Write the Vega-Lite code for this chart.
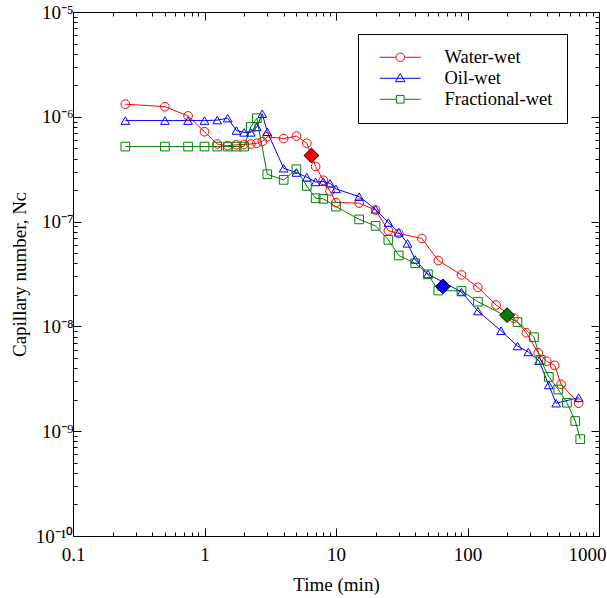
{
  "$schema": "https://vega.github.io/schema/vega-lite/v6.json",
  "width": 526,
  "height": 524,
  "autosize": {"type": "none"},
  "padding": {"left": 73, "top": 12, "right": 8, "bottom": 62},
  "background": "white",
  "config": {
    "font": "Liberation Serif",
    "view": {"stroke": null},
    "axis": {"grid": false, "domainColor": "black", "tickColor": "black", "labelColor": "black", "labelFont": "Liberation Serif", "labelFontSize": 19, "titleFont": "Liberation Serif", "titleFontSize": 19, "titleFontWeight": "normal", "titleColor": "black", "labelFlush": false, "labelOverlap": false}
  },
  "datasets": {
    "series": [
      {"t": 0.25, "nc": 1.32e-6, "type": "Water-wet"},
      {"t": 0.5, "nc": 1.25e-6, "type": "Water-wet"},
      {"t": 0.75, "nc": 1.02e-6, "type": "Water-wet"},
      {"t": 1.0, "nc": 7.2e-7, "type": "Water-wet"},
      {"t": 1.25, "nc": 5.5e-7, "type": "Water-wet"},
      {"t": 1.5, "nc": 5.3e-7, "type": "Water-wet"},
      {"t": 1.75, "nc": 5.4e-7, "type": "Water-wet"},
      {"t": 2.0, "nc": 5.45e-7, "type": "Water-wet"},
      {"t": 2.25, "nc": 5.5e-7, "type": "Water-wet"},
      {"t": 2.5, "nc": 5.6e-7, "type": "Water-wet"},
      {"t": 2.75, "nc": 5.8e-7, "type": "Water-wet"},
      {"t": 3.0, "nc": 6.45e-7, "type": "Water-wet"},
      {"t": 4, "nc": 6.2e-7, "type": "Water-wet"},
      {"t": 5, "nc": 6.55e-7, "type": "Water-wet"},
      {"t": 6, "nc": 5.6e-7, "type": "Water-wet"},
      {"t": 7, "nc": 3.36e-7, "type": "Water-wet"},
      {"t": 8, "nc": 2.48e-7, "type": "Water-wet"},
      {"t": 9, "nc": 1.96e-7, "type": "Water-wet"},
      {"t": 10, "nc": 1.52e-7, "type": "Water-wet"},
      {"t": 15, "nc": 1.5e-7, "type": "Water-wet"},
      {"t": 20, "nc": 1.29e-7, "type": "Water-wet"},
      {"t": 25, "nc": 8.2e-8, "type": "Water-wet"},
      {"t": 30, "nc": 7.7e-8, "type": "Water-wet"},
      {"t": 45, "nc": 6.9e-8, "type": "Water-wet"},
      {"t": 60, "nc": 4.25e-8, "type": "Water-wet"},
      {"t": 90, "nc": 3.1e-8, "type": "Water-wet"},
      {"t": 120, "nc": 2.36e-8, "type": "Water-wet"},
      {"t": 165, "nc": 1.6e-8, "type": "Water-wet"},
      {"t": 225, "nc": 1.2e-8, "type": "Water-wet"},
      {"t": 280, "nc": 8.7e-9, "type": "Water-wet"},
      {"t": 345, "nc": 5.6e-9, "type": "Water-wet"},
      {"t": 400, "nc": 4.65e-9, "type": "Water-wet"},
      {"t": 460, "nc": 4.25e-9, "type": "Water-wet"},
      {"t": 515, "nc": 2.8e-9, "type": "Water-wet"},
      {"t": 700, "nc": 1.85e-9, "type": "Water-wet"},
      {"t": 0.25, "nc": 9.2e-7, "type": "Oil-wet"},
      {"t": 0.5, "nc": 9.2e-7, "type": "Oil-wet"},
      {"t": 0.75, "nc": 9.2e-7, "type": "Oil-wet"},
      {"t": 1.0, "nc": 9.2e-7, "type": "Oil-wet"},
      {"t": 1.25, "nc": 9.3e-7, "type": "Oil-wet"},
      {"t": 1.5, "nc": 9.7e-7, "type": "Oil-wet"},
      {"t": 1.75, "nc": 7.4e-7, "type": "Oil-wet"},
      {"t": 2.0, "nc": 7.1e-7, "type": "Oil-wet"},
      {"t": 2.25, "nc": 7.1e-7, "type": "Oil-wet"},
      {"t": 2.5, "nc": 8.0e-7, "type": "Oil-wet"},
      {"t": 2.75, "nc": 1.07e-6, "type": "Oil-wet"},
      {"t": 3.0, "nc": 7.2e-7, "type": "Oil-wet"},
      {"t": 4, "nc": 3.23e-7, "type": "Oil-wet"},
      {"t": 5, "nc": 2.94e-7, "type": "Oil-wet"},
      {"t": 6, "nc": 2.65e-7, "type": "Oil-wet"},
      {"t": 7, "nc": 2.39e-7, "type": "Oil-wet"},
      {"t": 8, "nc": 2.41e-7, "type": "Oil-wet"},
      {"t": 9, "nc": 2.32e-7, "type": "Oil-wet"},
      {"t": 10, "nc": 2.05e-7, "type": "Oil-wet"},
      {"t": 15, "nc": 1.73e-7, "type": "Oil-wet"},
      {"t": 20, "nc": 1.31e-7, "type": "Oil-wet"},
      {"t": 25, "nc": 9.8e-8, "type": "Oil-wet"},
      {"t": 30, "nc": 7.9e-8, "type": "Oil-wet"},
      {"t": 35, "nc": 6.2e-8, "type": "Oil-wet"},
      {"t": 40, "nc": 4.35e-8, "type": "Oil-wet"},
      {"t": 50, "nc": 3.16e-8, "type": "Oil-wet"},
      {"t": 90, "nc": 2.13e-8, "type": "Oil-wet"},
      {"t": 120, "nc": 1.4e-8, "type": "Oil-wet"},
      {"t": 180, "nc": 9.1e-9, "type": "Oil-wet"},
      {"t": 240, "nc": 6.5e-9, "type": "Oil-wet"},
      {"t": 290, "nc": 5.7e-9, "type": "Oil-wet"},
      {"t": 350, "nc": 4.7e-9, "type": "Oil-wet"},
      {"t": 415, "nc": 2.76e-9, "type": "Oil-wet"},
      {"t": 472, "nc": 1.85e-9, "type": "Oil-wet"},
      {"t": 700, "nc": 2.09e-9, "type": "Oil-wet"},
      {"t": 0.25, "nc": 5.2e-7, "type": "Fractional-wet"},
      {"t": 0.5, "nc": 5.2e-7, "type": "Fractional-wet"},
      {"t": 0.75, "nc": 5.2e-7, "type": "Fractional-wet"},
      {"t": 1.0, "nc": 5.2e-7, "type": "Fractional-wet"},
      {"t": 1.25, "nc": 5.2e-7, "type": "Fractional-wet"},
      {"t": 1.5, "nc": 5.2e-7, "type": "Fractional-wet"},
      {"t": 1.75, "nc": 5.2e-7, "type": "Fractional-wet"},
      {"t": 2.0, "nc": 5.2e-7, "type": "Fractional-wet"},
      {"t": 2.25, "nc": 8.0e-7, "type": "Fractional-wet"},
      {"t": 2.5, "nc": 9.7e-7, "type": "Fractional-wet"},
      {"t": 3.0, "nc": 2.83e-7, "type": "Fractional-wet"},
      {"t": 4, "nc": 2.5e-7, "type": "Fractional-wet"},
      {"t": 5, "nc": 3.16e-7, "type": "Fractional-wet"},
      {"t": 6, "nc": 2.19e-7, "type": "Fractional-wet"},
      {"t": 7, "nc": 1.67e-7, "type": "Fractional-wet"},
      {"t": 8, "nc": 1.65e-7, "type": "Fractional-wet"},
      {"t": 10, "nc": 1.39e-7, "type": "Fractional-wet"},
      {"t": 15, "nc": 1.05e-7, "type": "Fractional-wet"},
      {"t": 20, "nc": 9.1e-8, "type": "Fractional-wet"},
      {"t": 25, "nc": 6.7e-8, "type": "Fractional-wet"},
      {"t": 30, "nc": 4.75e-8, "type": "Fractional-wet"},
      {"t": 40, "nc": 4.0e-8, "type": "Fractional-wet"},
      {"t": 50, "nc": 3.14e-8, "type": "Fractional-wet"},
      {"t": 60, "nc": 2.2e-8, "type": "Fractional-wet"},
      {"t": 90, "nc": 2.18e-8, "type": "Fractional-wet"},
      {"t": 120, "nc": 1.72e-8, "type": "Fractional-wet"},
      {"t": 240, "nc": 1.1e-8, "type": "Fractional-wet"},
      {"t": 320, "nc": 7.9e-9, "type": "Fractional-wet"},
      {"t": 360, "nc": 4.8e-9, "type": "Fractional-wet"},
      {"t": 415, "nc": 3.3e-9, "type": "Fractional-wet"},
      {"t": 490, "nc": 2.5e-9, "type": "Fractional-wet"},
      {"t": 570, "nc": 1.87e-9, "type": "Fractional-wet"},
      {"t": 660, "nc": 1.25e-9, "type": "Fractional-wet"},
      {"t": 720, "nc": 8.4e-10, "type": "Fractional-wet"}
    ],
    "diamonds": [
      {"t": 6.5, "nc": 4.27e-7, "type": "Water-wet"},
      {"t": 65, "nc": 2.41e-8, "type": "Oil-wet"},
      {"t": 200, "nc": 1.28e-8, "type": "Fractional-wet"}
    ]
  },
  "resolve": {"scale": {"shape": "independent", "stroke": "independent"}},
  "layer": [
    {
      "data": {"name": "series"},
      "mark": {"type": "line", "strokeWidth": 1},
      "encoding": {
        "x": {"field": "t", "type": "quantitative", "scale": {"type": "log", "domain": [0.1, 1000], "nice": false},
          "axis": {"orient": "bottom", "title": "Time (min)", "titlePadding": 7, "labelPadding": 17,
            "ticks": true, "tickColor": "black", "tickWidth": 1, "tickOpacity": 1,
            "values": [0.1,0.2,0.3,0.4,0.5,0.6,0.7,0.8,0.9,1,2,3,4,5,6,7,8,9,10,20,30,40,50,60,70,80,90,100,200,300,400,500,600,700,800,900,1000],
            "labelExpr": "abs(log(datum.value)/LN10 - round(log(datum.value)/LN10)) < 1e-6 ? (datum.value < 1 ? '0.1' : format(datum.value, 'd')) : ''",
            "labelAlign": {"condition": {"test": "datum.value > 999", "value": "right"}, "value": "center"},
            "labelOffset": {"condition": {"test": "datum.value > 999", "value": 7}, "value": 0},
            "tickSize": {"condition": {"test": "abs(log(datum.value)/LN10 - round(log(datum.value)/LN10)) < 1e-6", "value": -8}, "value": -4}}},
        "y": {"field": "nc", "type": "quantitative", "scale": {"type": "log", "domain": [1e-10, 1e-5], "nice": false},
          "axis": {"orient": "left", "title": "Capillary number, Nᴄ", "titlePadding": 6, "labelPadding": 8,
            "ticks": true, "tickColor": "black", "tickWidth": 1, "tickOpacity": 1,
            "values": [1e-10,2e-10,3e-10,4e-10,5e-10,6e-10,7e-10,8e-10,9e-10,1e-9,2e-9,3e-9,4e-9,5e-9,6e-9,7e-9,8e-9,9e-9,1e-8,2e-8,3e-8,4e-8,5e-8,6e-8,7e-8,8e-8,9e-8,1e-7,2e-7,3e-7,4e-7,5e-7,6e-7,7e-7,8e-7,9e-7,1e-6,2e-6,3e-6,4e-6,5e-6,6e-6,7e-6,8e-6,9e-6,1e-5],
            "labelExpr": "abs(log(datum.value)/LN10 - round(log(datum.value)/LN10)) < 1e-6 ? '10⁻' + ['⁰','¹','²','³','⁴','⁵','⁶','⁷','⁸','⁹','¹⁰'][-round(log(datum.value)/LN10)] : ''",
            "tickSize": {"condition": {"test": "abs(log(datum.value)/LN10 - round(log(datum.value)/LN10)) < 1e-6", "value": -8}, "value": -4}}},
        "color": {"field": "type", "type": "nominal", "scale": {"domain": ["Water-wet", "Oil-wet", "Fractional-wet"], "range": ["#ff0000", "#0000ff", "#008000"]}, "legend": null}
      }
    },
    {
      "data": {"name": "series"},
      "mark": {"type": "point", "filled": false, "size": 75, "strokeWidth": 1, "opacity": 1},
      "encoding": {
        "x": {"field": "t", "type": "quantitative", "axis": null},
        "y": {"field": "nc", "type": "quantitative", "axis": null},
        "stroke": {"field": "type", "type": "nominal", "scale": {"domain": ["Water-wet", "Oil-wet", "Fractional-wet"], "range": ["#ff0000", "#0000ff", "#008000"]}, "legend": null},
        "shape": {"field": "type", "type": "nominal", "scale": {"domain": ["Water-wet", "Oil-wet", "Fractional-wet"], "range": ["circle", "triangle-up", "square"]}, "legend": null}
      }
    },
    {
      "data": {"name": "series"},
      "mark": {"type": "point", "filled": false, "size": 75, "strokeWidth": 1, "opacity": 0},
      "encoding": {
        "x": {"field": "t", "type": "quantitative", "axis": null},
        "y": {"field": "nc", "type": "quantitative", "axis": null},
        "stroke": {"field": "type", "type": "nominal", "scale": {"domain": ["Water-wet", "Oil-wet", "Fractional-wet"], "range": ["#ff0000", "#0000ff", "#008000"]},
          "legend": {"orient": "none", "legendX": 285, "legendY": 22, "title": null, "labelFontSize": 18.5, "labelFont": "Liberation Serif", "labelColor": "black", "symbolSize": 289, "symbolStrokeWidth": 1, "symbolOpacity": 1, "symbolOffset": 19, "labelOffset": 35, "padding": 14, "rowPadding": 2, "strokeColor": "black", "fillColor": "white"}},
        "shape": {"field": "type", "type": "nominal", "scale": {"domain": ["Water-wet", "Oil-wet", "Fractional-wet"], "range": ["M-2.41,0H-0.5M0.5,0H2.41M0.5,0A0.5,0.5,0,1,1,-0.5,0A0.5,0.5,0,1,1,0.5,0Z", "M-2.41,0H2.41M0,-0.56L0.55,0.4L-0.55,0.4Z", "M-2.41,0H-0.45M0.45,0H2.41M-0.45,-0.45H0.45V0.45H-0.45Z"]},
          "legend": {"orient": "none", "legendX": 285, "legendY": 22, "title": null, "labelFontSize": 18.5, "labelFont": "Liberation Serif", "labelColor": "black", "symbolSize": 289, "symbolStrokeWidth": 1, "symbolOpacity": 1, "symbolOffset": 19, "labelOffset": 35, "padding": 14, "rowPadding": 2, "strokeColor": "black", "fillColor": "white"}}
      }
    },
    {
      "data": {"name": "diamonds"},
      "mark": {"type": "point", "shape": "diamond", "filled": true, "size": 220, "stroke": "black", "strokeWidth": 1, "opacity": 1},
      "encoding": {
        "x": {"field": "t", "type": "quantitative",
          "axis": {"orient": "top", "title": null, "labels": false,
            "ticks": true, "tickColor": "black", "tickWidth": 1, "tickOpacity": 1,
            "values": [0.1,0.2,0.3,0.4,0.5,0.6,0.7,0.8,0.9,1,2,3,4,5,6,7,8,9,10,20,30,40,50,60,70,80,90,100,200,300,400,500,600,700,800,900,1000],
            "tickSize": {"condition": {"test": "abs(log(datum.value)/LN10 - round(log(datum.value)/LN10)) < 1e-6", "value": -8}, "value": -4}}},
        "y": {"field": "nc", "type": "quantitative",
          "axis": {"orient": "right", "title": null, "labels": false,
            "ticks": true, "tickColor": "black", "tickWidth": 1, "tickOpacity": 1,
            "values": [1e-10,2e-10,3e-10,4e-10,5e-10,6e-10,7e-10,8e-10,9e-10,1e-9,2e-9,3e-9,4e-9,5e-9,6e-9,7e-9,8e-9,9e-9,1e-8,2e-8,3e-8,4e-8,5e-8,6e-8,7e-8,8e-8,9e-8,1e-7,2e-7,3e-7,4e-7,5e-7,6e-7,7e-7,8e-7,9e-7,1e-6,2e-6,3e-6,4e-6,5e-6,6e-6,7e-6,8e-6,9e-6,1e-5],
            "tickSize": {"condition": {"test": "abs(log(datum.value)/LN10 - round(log(datum.value)/LN10)) < 1e-6", "value": -8}, "value": -4}}},
        "fill": {"field": "type", "type": "nominal", "scale": {"domain": ["Water-wet", "Oil-wet", "Fractional-wet"], "range": ["#ff0000", "#0000ff", "#008000"]}, "legend": null}
      }
    }
  ]
}
